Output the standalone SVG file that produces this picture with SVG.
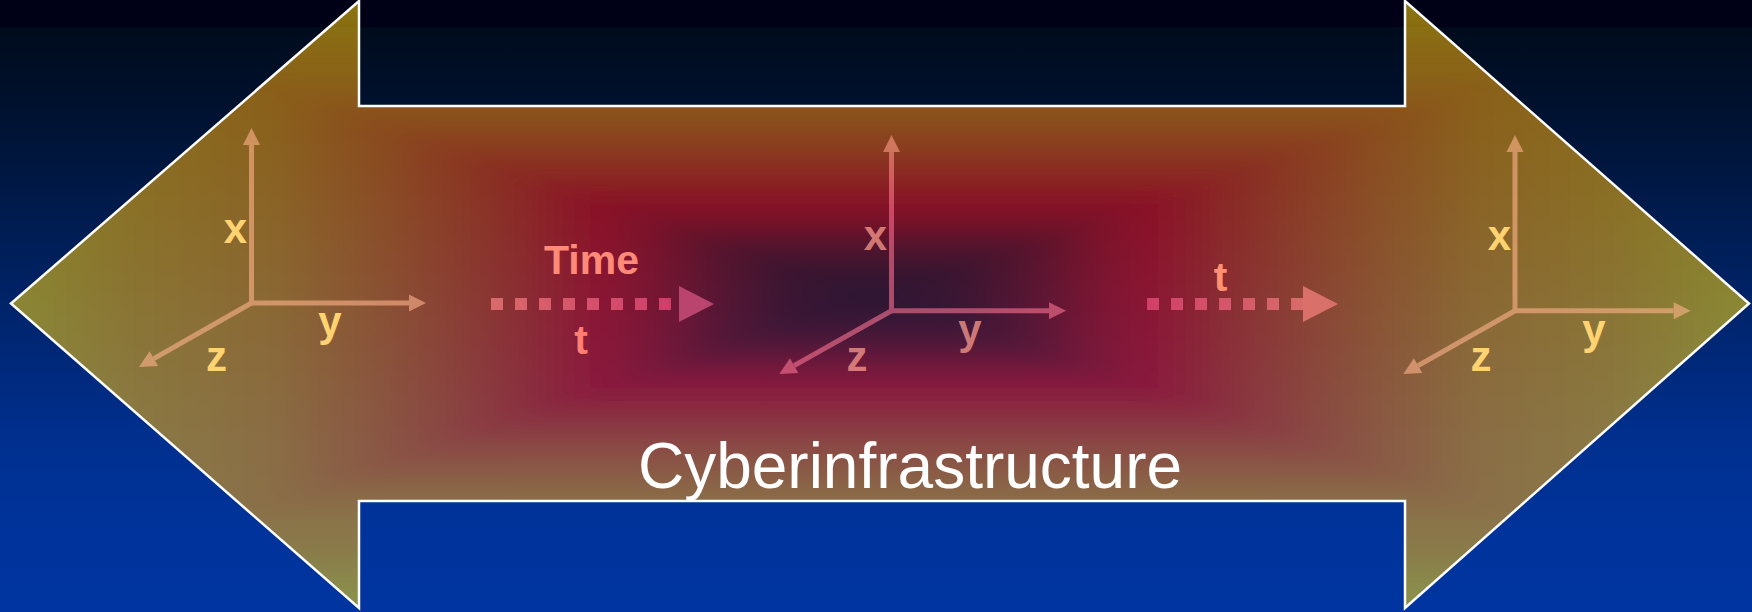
<svg xmlns="http://www.w3.org/2000/svg" xmlns:xlink="http://www.w3.org/1999/xlink" width="1752" height="612" viewBox="0 0 1752 612">
  <defs>
    <linearGradient id="bgGrad" gradientUnits="userSpaceOnUse" x1="0" y1="27" x2="0" y2="612">
      <stop offset="0" stop-color="#000b1c"/>
      <stop offset="0.15" stop-color="#001231"/>
      <stop offset="0.3" stop-color="#001a4a"/>
      <stop offset="0.5" stop-color="#00256e"/>
      <stop offset="0.7" stop-color="#002f8e"/>
      <stop offset="0.85" stop-color="#00339a"/>
      <stop offset="1" stop-color="#0034a0"/>
    </linearGradient>
    <!-- rectangular path gradient built from 3 pieces: t = max(|dx|/870, |dy|/300), centre (874,296) -->
    <linearGradient id="gH" gradientUnits="userSpaceOnUse" x1="4" y1="0" x2="1744" y2="0">
      <stop offset="0" stop-color="#f2d511"/>
      <stop offset="0.075" stop-color="#f2b20d"/>
      <stop offset="0.155" stop-color="#f29d0d"/>
      <stop offset="0.22" stop-color="#f2730d"/>
      <stop offset="0.275" stop-color="#f2490f"/>
      <stop offset="0.315" stop-color="#f2250a"/>
      <stop offset="0.345" stop-color="#f2090a"/>
      <stop offset="0.375" stop-color="#d2090a"/>
      <stop offset="0.41" stop-color="#9a090e"/>
      <stop offset="0.45" stop-color="#69090c"/>
      <stop offset="0.5" stop-color="#4d080c"/>
      <stop offset="0.55" stop-color="#69090c"/>
      <stop offset="0.59" stop-color="#9a090e"/>
      <stop offset="0.625" stop-color="#d2090a"/>
      <stop offset="0.655" stop-color="#f2090a"/>
      <stop offset="0.685" stop-color="#f2250a"/>
      <stop offset="0.725" stop-color="#f2490f"/>
      <stop offset="0.78" stop-color="#f2730d"/>
      <stop offset="0.845" stop-color="#f29d0d"/>
      <stop offset="0.925" stop-color="#f2b20d"/>
      <stop offset="1" stop-color="#f2d511"/>
    </linearGradient>
    <linearGradient id="gTop" gradientUnits="userSpaceOnUse" x1="0" y1="296" x2="0" y2="-4">
      <stop offset="0" stop-color="#4d080c"/>
      <stop offset="0.1" stop-color="#69090c"/>
      <stop offset="0.18" stop-color="#9a090e"/>
      <stop offset="0.25" stop-color="#d2090a"/>
      <stop offset="0.31" stop-color="#f2090a"/>
      <stop offset="0.37" stop-color="#f2250a"/>
      <stop offset="0.45" stop-color="#f2490f"/>
      <stop offset="0.56" stop-color="#f2730d"/>
      <stop offset="0.69" stop-color="#f29d0d"/>
      <stop offset="0.85" stop-color="#f2b20d"/>
      <stop offset="1" stop-color="#f2d511"/>
    </linearGradient>
    <linearGradient id="gBot" xlink:href="#gTop" gradientUnits="userSpaceOnUse" x1="0" y1="296" x2="0" y2="596"/>
    <filter id="soft" filterUnits="userSpaceOnUse" x="-100" y="-100" width="1952" height="812">
      <feGaussianBlur stdDeviation="10"/>
    </filter>
    <clipPath id="arrowClip">
      <path d="M11,303.5 L359,1 L359,106 L1405,106 L1405,1 L1749,303.5 L1405,608 L1405,501 L359,501 L359,608 Z"/>
    </clipPath>
    <marker id="headWarm" markerUnits="userSpaceOnUse" markerWidth="17" markerHeight="17" refX="0" refY="8.5" orient="auto" overflow="visible">
      <path d="M0,0 L17,8.5 L0,17 Z" fill="#ffb48c"/>
    </marker>
    <marker id="headPink" markerUnits="userSpaceOnUse" markerWidth="17" markerHeight="17" refX="0" refY="8.5" orient="auto" overflow="visible">
      <path d="M0,0 L17,8.5 L0,17 Z" fill="#ff7695"/>
    </marker>
    <marker id="headPinkTop" markerUnits="userSpaceOnUse" markerWidth="17" markerHeight="17" refX="0" refY="8.5" orient="auto" overflow="visible">
      <path d="M0,0 L17,8.5 L0,17 Z" fill="#ffa088"/>
    </marker>
    <linearGradient id="dots1" gradientUnits="userSpaceOnUse" x1="491" y1="0" x2="671" y2="0">
      <stop offset="0" stop-color="#d96b6b"/>
      <stop offset="1" stop-color="#d03d6b"/>
    </linearGradient>
    <linearGradient id="dots2" gradientUnits="userSpaceOnUse" x1="1147" y1="0" x2="1303" y2="0">
      <stop offset="0" stop-color="#d13f69"/>
      <stop offset="1" stop-color="#d86c6a"/>
    </linearGradient>
    <linearGradient id="cxGrad" gradientUnits="userSpaceOnUse" x1="0" y1="135" x2="0" y2="311">
      <stop offset="0" stop-color="#ffa088"/>
      <stop offset="0.45" stop-color="#ff6e94"/>
      <stop offset="1" stop-color="#ff7695"/>
    </linearGradient>
    <style>
      .warm line { stroke: #ffb48c; stroke-width: 5; marker-end: url(#headWarm); }
      .pink line { stroke: #ff7695; stroke-width: 5; marker-end: url(#headPink); }
      .lbl { font-family: "Liberation Sans", Arial, sans-serif; font-weight: bold; font-size: 42px; text-anchor: middle; }
      .lblWarm { fill: #ffd272; }
      .lblPink { fill: #ffa090; fill-opacity: 0.72; }
      .tlbl { font-family: "Liberation Sans", Arial, sans-serif; font-weight: bold; font-size: 41px; text-anchor: middle; }
      .title { font-family: "Liberation Sans", Arial, sans-serif; font-size: 64px; fill: #ffffff; text-anchor: middle; }
    </style>
  </defs>

  <g id="background">
    <rect x="0" y="0" width="1752" height="612" fill="url(#bgGrad)"/>
    <rect x="0" y="0" width="1752" height="27" fill="#000016"/>
  </g>

  <g id="cyberinfrastructure-arrow">
    <g clip-path="url(#arrowClip)" opacity="0.57">
      <g filter="url(#soft)">
        <rect x="-60" y="-60" width="1872" height="732" fill="url(#gH)"/>
        <polygon points="-431,-154 2179,-154 874,296" fill="url(#gTop)"/>
        <polygon points="-431,746 2179,746 874,296" fill="url(#gBot)"/>
      </g>
    </g>
    <path d="M11,303.5 L359,1 L359,106 L1405,106 L1405,1 L1749,303.5 L1405,608 L1405,501 L359,501 L359,608 Z" fill="none" stroke="#ffffff" stroke-width="2.5"/>
    <text class="title" x="910" y="488">Cyberinfrastructure</text>
  </g>

  <g id="axes-left">
    <g class="warm" opacity="0.6">
      <line x1="251.5" y1="303" x2="251.5" y2="145"/>
      <line x1="251.5" y1="303" x2="409" y2="303"/>
      <line x1="251.5" y1="303" x2="153.8" y2="358.6"/>
    </g>
    <text class="lbl lblWarm" x="235.5" y="243">x</text>
    <text class="lbl lblWarm" x="330" y="336">y</text>
    <text class="lbl lblWarm" x="216.5" y="371">z</text>
  </g>

  <g id="axes-center">
    <g class="pink" opacity="0.58">
      <line x1="891.5" y1="310.7" x2="891.5" y2="152" style="stroke:url(#cxGrad);marker-end:url(#headPinkTop)"/>
      <line x1="891.5" y1="310.7" x2="1049" y2="310.7"/>
      <line x1="891.5" y1="310.7" x2="794.1" y2="365.6"/>
    </g>
    <text class="lbl lblPink" x="875.5" y="250">x</text>
    <text class="lbl lblPink" x="970" y="344">y</text>
    <text class="lbl lblPink" x="857" y="371">z</text>
  </g>

  <g id="axes-right">
    <g class="warm" opacity="0.6">
      <line x1="1515" y1="310.7" x2="1515" y2="152"/>
      <line x1="1515" y1="310.7" x2="1673.7" y2="310.7"/>
      <line x1="1515" y1="310.7" x2="1418.1" y2="365.6"/>
    </g>
    <text class="lbl lblWarm" x="1499.5" y="250">x</text>
    <text class="lbl lblWarm" x="1594" y="344">y</text>
    <text class="lbl lblWarm" x="1481" y="371">z</text>
  </g>

  <g id="connectors">
    <g id="time-arrow-1">
      <line x1="491" y1="304" x2="671" y2="304" stroke="url(#dots1)" stroke-width="12" stroke-dasharray="12 12"/>
      <polygon points="679,286 714,304 679,322" fill="#b9456f"/>
      <text class="tlbl" x="591.5" y="274" fill="#ff8a78">Time</text>
      <text class="tlbl" x="581" y="354" fill="#ff8070">t</text>
    </g>
    <g id="time-arrow-2">
      <line x1="1147" y1="304" x2="1303" y2="304" stroke="url(#dots2)" stroke-width="12" stroke-dasharray="12 12"/>
      <polygon points="1303,286 1338,304 1303,322" fill="#d9716a"/>
      <text class="tlbl" x="1220.5" y="291" fill="#ff9070">t</text>
    </g>
  </g>
</svg>
